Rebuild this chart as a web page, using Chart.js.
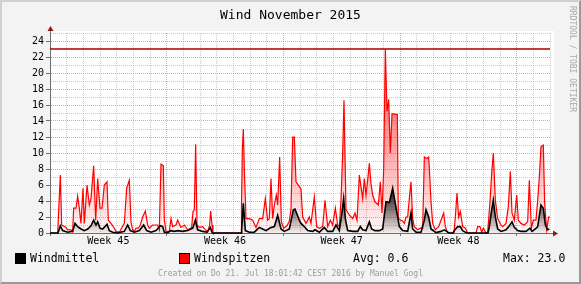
<!DOCTYPE html>
<html>
<head>
<meta charset="utf-8">
<script src="https://cdn.jsdelivr.net/npm/chart.js@4"></script>
<style>
body { margin: 0; position: relative; width: 581px; height: 284px; overflow: hidden; }
#rahmen { position: absolute; left: 0; top: 0; width: 577px; height: 280px; background: #f3f3f3;
  border: 2px solid; border-color: #d0d0d0 #9a9a9a #9a9a9a #d0d0d0; }
canvas { position: absolute; left: 0; top: 0; }
.t { position: absolute; font-family: "DejaVu Sans Mono", monospace; white-space: pre; line-height: 1; color: #000; }
.box { position: absolute; width: 9px; height: 9px; border: 1px solid #000; }
</style>
</head>
<body>
<div id="rahmen"></div>
<canvas id="myWindChart" width="581" height="284"></canvas>
<div class="t" style="left:0;width:581px;text-align:center;top:8px;font-size:13px">Wind November 2015</div>
<div class="t" style="left:568px;top:6px;font-size:8px;color:#a8a8a8;writing-mode:vertical-rl">RRDTOOL / TOBI OETIKER</div>
<div class="box" style="left:15px;top:253px;background:#000"></div>
<div class="t" style="left:30px;top:253px;font-size:11.5px">Windmittel</div>
<div class="box" style="left:179px;top:253px;background:#ff0000"></div>
<div class="t" style="left:194px;top:253px;font-size:11.5px">Windspitzen</div>
<div class="t" id="avg" style="left:353px;top:253px;font-size:11.5px">Avg: 0.6</div>
<div class="t" id="max" style="left:503px;top:253px;font-size:11.5px"></div>
<div class="t" style="left:0;width:581px;text-align:center;top:270px;font-size:8px;color:#9c9c9c">Created on Do 21. Jul 18:01:42 CEST 2016 by Manuel Gogl</div>

<script>
// Zeitachse in Tagen ab Monatsbeginn, Werte in m/s

var weekLabels = ["Week 45", "Week 46", "Week 47", "Week 48"];

var spitzenTage = [0, 0.46, 0.50, 0.62, 0.70, 0.96, 1.06, 1.26, 1.36, 1.42, 1.56, 1.66, 1.76, 1.86, 1.98, 2.06, 2.22, 2.36, 2.46, 2.62,
  2.74, 2.86, 3.00, 3.12, 3.26, 3.42, 3.50, 3.66, 3.86, 3.96, 4.16, 4.46, 4.60, 4.76, 4.86, 4.96, 5.06, 5.16, 5.30, 5.42,
  5.56, 5.72, 5.86, 5.96, 6.16, 6.46, 6.56, 6.66, 6.80, 6.86, 6.96, 7.16, 7.26, 7.36, 7.56, 7.66, 7.86, 8.06, 8.26, 8.50,
  8.58, 8.66, 8.74, 8.82, 8.96, 9.16, 9.30, 9.46, 9.58, 9.64, 9.72, 9.78, 11.46, 11.49, 11.54, 11.60, 11.66, 11.76, 11.96, 12.16,
  12.36, 12.56, 12.76, 12.92, 13.06, 13.16, 13.26, 13.36, 13.46, 13.58, 13.66, 13.78, 13.88, 14.02, 14.22, 14.36, 14.46, 14.56, 14.66, 14.76,
  14.96, 15.06, 15.16, 15.36, 15.56, 15.66, 15.86, 16.00, 16.16, 16.36, 16.50, 16.66, 16.82, 16.96, 17.12, 17.26, 17.36, 17.46, 17.56, 17.64,
  17.67, 17.76, 17.96, 18.16, 18.30, 18.42, 18.56, 18.66, 18.76, 18.86, 18.96, 19.06, 19.16, 19.26, 19.36, 19.50, 19.70, 19.82, 19.92, 20.02,
  20.12, 20.22, 20.32, 20.42, 20.52, 20.60, 20.84, 20.90, 21.06, 21.16, 21.26, 21.36, 21.46, 21.56, 21.66, 21.76, 21.86, 22.06, 22.22,
  22.36, 22.46, 22.62, 22.72, 22.76, 22.86, 22.96, 23.12, 23.32, 23.46, 23.62, 23.72, 23.86, 24.24, 24.32, 24.42, 24.52, 24.62, 24.76, 24.92,
  25.06, 25.56, 25.66, 25.80, 25.90, 26.00, 26.16, 26.26, 26.40, 26.50, 26.60, 26.72, 26.86, 27.06, 27.16, 27.36, 27.50, 27.62, 27.72, 27.86,
  28.00, 28.10, 28.26, 28.46, 28.66, 28.76, 28.88, 29.00, 29.16, 29.26, 29.36, 29.46, 29.60, 29.68, 29.80, 29.92, 30.00];
var spitzenWerte = [0, 0, 1.8, 7.25, 1.0, 0.7, 0.4, 0.4, 0.15, 3.1, 3.1, 4.6, 3.1, 1.2, 5.6, 1.2, 6.0, 3.5, 4.3, 8.4,
  1.6, 6.8, 3.1, 3.1, 6.0, 6.4, 1.6, 1.2, 0.6, 0.2, 0.1, 1.2, 5.6, 6.6, 1.4, 0.4, 0.2, 0.6, 0.6, 1.0,
  2.0, 2.75, 1.0, 0.6, 1.0, 1.0, 0.4, 8.6, 8.4, 1.6, 0.2, 0.2, 1.8, 0.8, 1.0, 1.6, 0.7, 1.0, 0.4, 0.7,
  2.7, 2.9, 11.1, 1.0, 0.7, 0.8, 0.45, 0.15, 1.0, 2.75, 1.0, 0, 0, 3.3, 10.4, 13.0, 7.9, 1.8, 1.8, 1.6,
  0.7, 1.8, 1.8, 4.3, 1.6, 1.8, 6.8, 1.8, 3.5, 4.75, 3.5, 9.5, 1.4, 0.6, 0.9, 1.5, 3.0, 12.0, 12.0, 6.4,
  5.8, 5.5, 2.0, 1.2, 2.0, 1.2, 4.5, 0.8, 0.6, 0.8, 4.1, 0.8, 1.6, 1.0, 3.1, 1.0, 0.8, 4.1, 10.0, 16.6,
  16.6, 2.9, 2.25, 1.8, 2.5, 1.6, 7.25, 5.8, 4.3, 6.8, 4.75, 6.6, 8.7, 6.2, 4.75, 3.9, 3.5, 6.4, 2.5, 7.9,
  23.0, 15.2, 16.7, 10.0, 14.9, 14.9, 14.8, 1.8, 1.6, 1.5, 1.2, 2.0, 2.0, 4.3, 6.4, 1.8, 0.8, 0.4, 0.6,
  0.6, 9.5, 9.3, 9.5, 8.1, 3.9, 1.2, 0.4, 0.8, 1.6, 2.5, 0.8, 0, 0, 2.0, 5.0, 2.0, 2.7, 0.8, 0.6,
  0, 0, 0.8, 0.8, 0.1, 0.6, 0, 0.1, 3.9, 7.5, 10.0, 4.1, 1.8, 1.0, 0.8, 1.2, 3.3, 7.7, 2.5, 1.6,
  4.75, 1.6, 1.2, 1.0, 1.4, 6.6, 0.6, 1.6, 1.6, 4.1, 7.0, 10.8, 11.0, 3.7, 0.4, 2.0, 2.0];

var mittelTage = [0, 0.48, 0.62, 0.76, 1.06, 1.36, 1.50, 1.66, 1.86, 2.06, 2.26, 2.46, 2.62, 2.76, 2.86, 3.00, 3.16, 3.42, 3.56, 3.76,
  4.06, 4.46, 4.66, 4.82, 5.06, 5.36, 5.62, 5.80, 6.06, 6.36, 6.62, 6.76, 6.86, 7.06, 7.26, 7.46, 7.66, 7.96, 8.26, 8.56,
  8.72, 8.86, 9.16, 9.42, 9.62, 9.72, 9.78, 11.46, 11.50, 11.60, 11.72, 11.96, 12.26, 12.56, 12.76, 12.96, 13.22, 13.46, 13.66, 13.86,
  14.06, 14.36, 14.60, 14.70, 14.96, 15.06, 15.26, 15.46, 15.76, 15.90, 16.16, 16.46, 16.66, 16.96, 17.16, 17.36, 17.50, 17.62, 17.72, 17.86,
  18.16, 18.46, 18.62, 18.76, 18.96, 19.16, 19.30, 19.50, 19.76, 19.96, 20.16, 20.36, 20.56, 20.70, 20.86, 20.96, 21.16, 21.46, 21.66, 21.76,
  21.96, 22.26, 22.46, 22.56, 22.72, 22.86, 23.16, 23.46, 23.66, 23.80, 23.94, 24.18, 24.26, 24.46, 24.62, 24.76, 24.96, 25.06, 26.28, 26.36,
  26.50, 26.60, 26.72, 26.86, 27.06, 27.36, 27.52, 27.72, 27.86, 28.06, 28.26, 28.56, 28.80, 28.92, 29.12, 29.26, 29.46, 29.60, 29.72, 29.86, 29.96];
var mittelWerte = [0, 0, 0.9, 0.3, 0.1, 0.2, 1.2, 0.8, 0.5, 0.3, 0.5, 0.9, 1.6, 1.0, 1.4, 0.6, 0.5, 1.1, 0.3, 0.1,
  0, 0.2, 1.0, 0.3, 0.1, 0.3, 1.0, 0.3, 0.1, 0.3, 0.9, 0.8, 0.1, 0.05, 0.3, 0.2, 0.3, 0.2, 0.3, 0.6,
  1.6, 0.4, 0.2, 0.1, 0.7, 0.1, 0, 0, 0.5, 3.7, 0.3, 0.1, 0.1, 0.7, 0.5, 0.3, 0.65, 0.8, 2.2, 0.5,
  0.2, 0.5, 2.9, 3.0, 1.6, 1.2, 0.8, 0.3, 0.2, 0.4, 0.1, 0.7, 0.2, 0.2, 1.0, 0.3, 2.25, 4.3, 1.8, 0.3,
  0.2, 0.2, 0.8, 0.4, 0.3, 1.4, 0.5, 0.3, 0.3, 0.5, 3.9, 3.8, 5.6, 3.9, 2.0, 0.8, 0.3, 0.2, 2.5, 0.5,
  0.1, 0.1, 1.6, 2.9, 2.0, 0.5, 0.05, 0.2, 0.4, 0.2, 0, 0, 0.3, 0.8, 0.8, 0.3, 0.05, 0, 0, 0.8,
  2.9, 4.1, 2.0, 0.5, 0.2, 0.4, 0.8, 1.4, 0.7, 0.3, 0.2, 0.2, 0.6, 0.2, 0.5, 0.8, 3.5, 3.1, 1.0, 0.4, 0.5];

var spitzen = spitzenTage.map(function (t, i) { return { x: t, y: spitzenWerte[i] }; });
var mittel = mittelTage.map(function (t, i) { return { x: t, y: mittelWerte[i] }; });
var maxWert = Math.max.apply(null, spitzenWerte);
document.getElementById("max").textContent = "Max: " + maxWert.toFixed(1);

var monoFont = "'DejaVu Sans Mono', monospace";

function verlauf(ctx, oben, farbeOben, farbeUnten) {
  var chart = ctx.chart;
  if (!chart.chartArea) return farbeUnten;
  var y = chart.scales.y;
  var g = chart.ctx.createLinearGradient(0, y.getPixelForValue(oben), 0, y.getPixelForValue(0));
  g.addColorStop(0, farbeOben);
  g.addColorStop(1, farbeUnten);
  return g;
}

var hintergrund = {
  id: "hintergrund",
  beforeDraw: function (chart) {
    var c = chart.ctx, a = chart.chartArea;
    c.save();
    c.fillStyle = "#ffffff";
    c.fillRect(a.left, a.top - 2, a.right - a.left + 4, a.bottom - a.top + 2);
    c.restore();
  },
  afterDraw: function (chart) {
    var c = chart.ctx, a = chart.chartArea;
    c.save();
    c.strokeStyle = "#707070";
    c.lineWidth = 1;
    c.beginPath();
    c.moveTo(a.left + 0.5, a.top); c.lineTo(a.left + 0.5, a.top - 3);
    c.moveTo(a.left - 3, a.bottom + 0.5); c.lineTo(a.left, a.bottom + 0.5);
    c.moveTo(a.right, a.bottom + 0.5); c.lineTo(a.right + 3, a.bottom + 0.5);
    c.stroke();
    c.fillStyle = "#8b1a1a";
    c.beginPath();
    c.moveTo(a.left + 0.5, a.top - 7); c.lineTo(a.left - 2.5, a.top - 2); c.lineTo(a.left + 3.5, a.top - 2);
    c.closePath(); c.fill();
    c.beginPath();
    c.moveTo(a.right + 8, a.bottom + 0.5); c.lineTo(a.right + 3, a.bottom - 2.5); c.lineTo(a.right + 3, a.bottom + 3.5);
    c.closePath(); c.fill();
    c.restore();
  }
};

var canvasWind = document.getElementById("myWindChart");
var myWindChart = new Chart(canvasWind, {
  type: "line",
  data: {
    datasets: [
      {
        data: mittel,
        label: "Windmittel",
        borderColor: "#000000",
        borderWidth: 1.6,
        backgroundColor: function (ctx) { return verlauf(ctx, 5, "rgba(0,0,0,0.8)", "rgba(0,0,0,0.04)"); },
        fill: "origin",
        pointRadius: 0,
        lineTension: 0,
        clip: false
      },
      {
        data: spitzen,
        label: "Windspitzen",
        borderColor: "#ff0000",
        borderWidth: 1.2,
        backgroundColor: function (ctx) { return verlauf(ctx, 14, "rgba(255,0,0,0.45)", "rgba(255,0,0,0.03)"); },
        fill: "origin",
        pointRadius: 0,
        lineTension: 0,
        clip: false
      },
      {
        data: [{ x: 0, y: maxWert }, { x: 30, y: maxWert }],
        label: "Max",
        borderColor: "#b00000",
        borderWidth: 1.5,
        pointRadius: 0,
        fill: false
      }
    ]
  },
  options: {
    responsive: false,
    devicePixelRatio: 1,
    animation: false,
    layout: { padding: { left: 0, top: 33, right: 31, bottom: 0 } },
    plugins: { legend: { display: false }, tooltip: { enabled: false }, title: { display: false } },
    scales: {
      x: {
        type: "linear",
        min: 0,
        max: 30,
        afterBuildTicks: function (scale) {
          var t = [];
          for (var v = 0; v <= 30; v += 0.5) t.push({ value: v });
          scale.ticks = t;
        },
        afterFit: function (scale) { scale.height = 51; },
        ticks: {
          autoSkip: false,
          maxRotation: 0,
          padding: -1,
          color: "#000",
          font: { family: monoFont, size: 10 },
          callback: function (v) {
            var w = (v - 3.5) / 7;
            return (Number.isInteger(w) && weekLabels[w]) ? weekLabels[w] : "";
          }
        },
        grid: {
          tickLength: 3,
          lineWidth: 1,
          color: function (ctx) {
            var v = ctx.tick.value;
            if (!Number.isInteger(v) || v === 0) return "rgba(0,0,0,0)";
            return v % 7 === 0 ? "rgba(200,90,90,0.55)" : "rgba(150,150,150,0.5)";
          },
          tickColor: function (ctx) {
            var v = ctx.tick.value;
            return (Number.isInteger(v) && v % 7 === 0) ? "#707070" : "rgba(0,0,0,0)";
          }
        },
        border: { display: true, color: "#707070", width: 1, dash: [1, 1] }
      },
      y: {
        min: 0,
        max: 25,
        afterBuildTicks: function (scale) {
          var t = [];
          for (var v = 0; v <= 25; v++) t.push({ value: v });
          scale.ticks = t;
        },
        afterFit: function (scale) { scale.width = 50; },
        ticks: {
          autoSkip: false,
          padding: 2,
          color: "#000",
          font: { family: monoFont, size: 10 },
          callback: function (v) { return v % 2 === 0 ? v : ""; }
        },
        grid: {
          tickLength: 4,
          lineWidth: 1,
          color: function (ctx) {
            var v = ctx.tick.value;
            if (v === 0) return "rgba(0,0,0,0)";
            return v % 2 === 0 ? "rgba(200,90,90,0.55)" : "rgba(150,150,150,0.5)";
          },
          tickColor: function (ctx) {
            return ctx.tick.value % 2 === 0 ? "#707070" : "rgba(0,0,0,0)";
          }
        },
        border: { display: true, color: "#707070", width: 1, dash: [1, 1] }
      }
    }
  },
  plugins: [hintergrund]
});
</script>
</body>
</html>
